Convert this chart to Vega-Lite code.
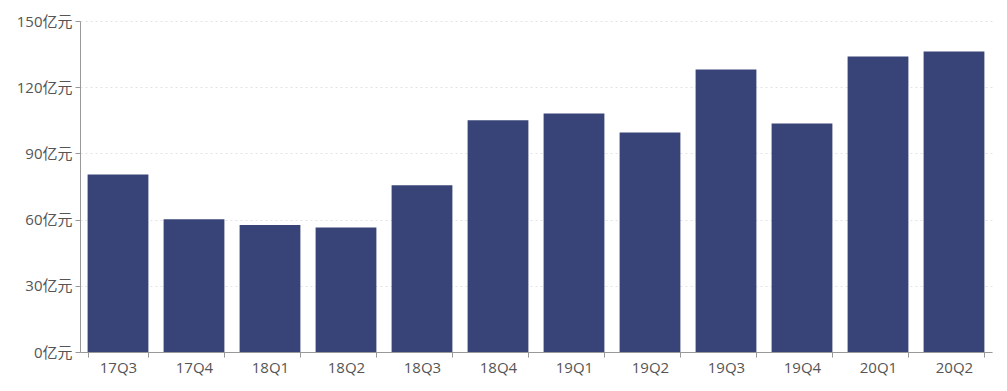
{
  "$schema": "https://vega.github.io/schema/vega-lite/v6.json",
  "autosize": {"type": "none"},
  "width": 912,
  "height": 331,
  "padding": {"left": 80, "top": 21, "right": 15, "bottom": 39},
  "background": "white",
  "data": {
    "values": [
      {"q": "17Q3", "v": 80.4},
      {"q": "17Q4", "v": 60.2},
      {"q": "18Q1", "v": 57.6},
      {"q": "18Q2", "v": 56.4},
      {"q": "18Q3", "v": 75.6},
      {"q": "18Q4", "v": 105.0},
      {"q": "19Q1", "v": 108.1},
      {"q": "19Q2", "v": 99.5},
      {"q": "19Q3", "v": 128.0},
      {"q": "19Q4", "v": 103.5},
      {"q": "20Q1", "v": 133.9},
      {"q": "20Q2", "v": 136.2}
    ]
  },
  "config": {
    "view": {"stroke": null},
    "font": "Open Sans, Noto Sans CJK SC"
  },
  "mark": {"type": "bar", "color": "#384478"},
  "encoding": {
    "x": {
      "field": "q",
      "type": "nominal",
      "sort": null,
      "scale": {"paddingInner": 0.2, "paddingOuter": 0.1},
      "axis": {
        "title": null,
        "labelAngle": 0,
        "labelFont": "Open Sans, Noto Sans CJK SC",
        "labelFontSize": 15,
        "labelColor": "#555555",
        "labelPadding": 3,
        "tickBand": "extent",
        "tickColor": "#999999",
        "tickSize": 5,
        "domainColor": "#999999",
        "grid": false
      }
    },
    "y": {
      "field": "v",
      "type": "quantitative",
      "scale": {"domain": [0, 150], "nice": false},
      "axis": {
        "title": null,
        "values": [0, 30, 60, 90, 120, 150],
        "labelExpr": "datum.value + '亿元'",
        "labelFont": "Open Sans, Noto Sans CJK SC",
        "labelFontSize": 15,
        "labelColor": "#555555",
        "labelPadding": 3,
        "tickColor": "#999999",
        "tickSize": 5,
        "domainColor": "#999999",
        "gridColor": "#e3e3e3",
        "gridDash": [2, 3]
      }
    }
  }
}
